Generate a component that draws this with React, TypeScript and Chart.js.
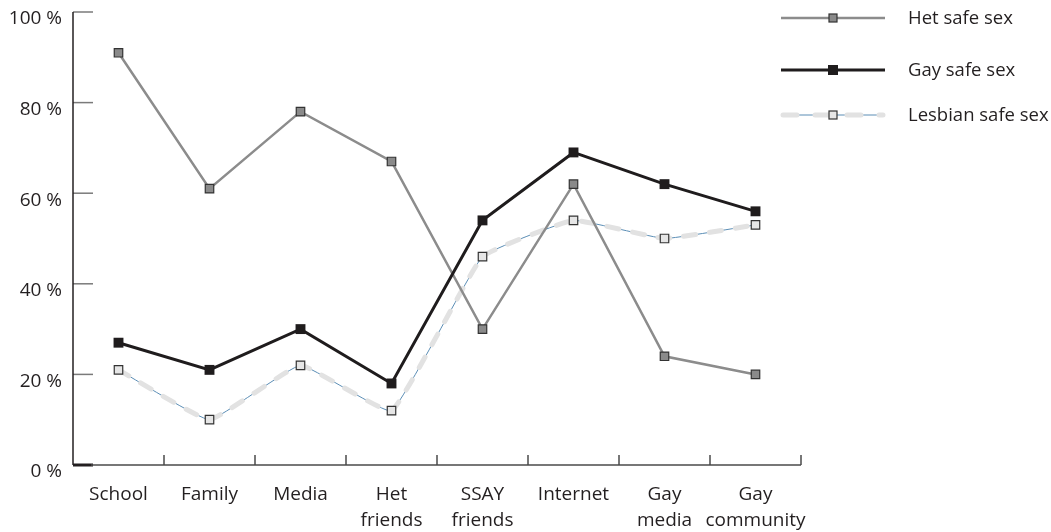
import React, { useEffect, useRef } from "react";
import { Chart, registerables } from "chart.js";
Chart.register(...registerables);

const categories: string[][] = [
  ["School"], ["Family"], ["Media"], ["Het", "friends"],
  ["SSAY", "friends"], ["Internet"], ["Gay", "media"], ["Gay", "community"],
];
const hetSafeSex = [91, 61, 78, 67, 30, 62, 24, 20];
const gaySafeSex = [27, 21, 30, 18, 54, 69, 62, 56];
const lesbianSafeSex = [21, 10, 22, 12, 46, 54, 50, 53];
const yTickValues = [0, 20, 40, 60, 80, 100];
const seriesNames = ["Het safe sex", "Gay safe sex", "Lesbian safe sex"];

const FONT = "'Open Sans', sans-serif";
const TEXT = "#231f20";

const axesPlugin = {
  id: "customAxes",
  beforeDatasetsDraw(chart: any) {
    const { ctx, chartArea } = chart;
    const x = chart.scales.x;
    const y = chart.scales.y;
    const left = chartArea.left;
    const bottom = y.getPixelForValue(0);
    const top = y.getPixelForValue(100);
    ctx.save();
    ctx.lineCap = "butt";
    yTickValues.forEach((v) => {
      const py = y.getPixelForValue(v);
      ctx.beginPath();
      ctx.strokeStyle = v === 0 ? "#231f20" : "#7a7a7a";
      ctx.lineWidth = v === 0 ? 3 : 1.5;
      ctx.moveTo(left, py);
      ctx.lineTo(left + 20, py);
      ctx.stroke();
    });
    ctx.beginPath();
    ctx.strokeStyle = "#231f20";
    ctx.lineWidth = 1.5;
    ctx.moveTo(left, top);
    ctx.lineTo(left, bottom);
    ctx.stroke();
    const n = categories.length;
    const step = x.getPixelForValue(1) - x.getPixelForValue(0);
    const right = x.getPixelForValue(n - 1) + step / 2;
    ctx.beginPath();
    ctx.strokeStyle = "#4a4a4a";
    ctx.lineWidth = 1.5;
    ctx.moveTo(left + 18, bottom);
    ctx.lineTo(right, bottom);
    ctx.stroke();
    for (let i = 0; i < n; i++) {
      const px = x.getPixelForValue(i) + step / 2;
      ctx.beginPath();
      ctx.moveTo(px, bottom);
      ctx.lineTo(px, bottom - 10);
      ctx.stroke();
    }
    ctx.restore();
  },
};

const legendPlugin = {
  id: "customLegend",
  afterDraw(chart: any) {
    const { ctx } = chart;
    const rows = [18, 70, 115];
    const x0 = 781, x1 = 885, mx = 833, tx = 908;
    ctx.save();
    rows.forEach((ry, i) => {
      if (i === 0) {
        ctx.strokeStyle = "#8c8c8c"; ctx.lineWidth = 2.5;
        ctx.beginPath(); ctx.moveTo(x0, ry); ctx.lineTo(x1, ry); ctx.stroke();
        ctx.fillStyle = "#8a8a8a"; ctx.strokeStyle = "#333"; ctx.lineWidth = 1.2;
        ctx.fillRect(mx - 4, ry - 4, 8, 8); ctx.strokeRect(mx - 4, ry - 4, 8, 8);
      } else if (i === 1) {
        ctx.strokeStyle = "#1f1c1d"; ctx.lineWidth = 3;
        ctx.beginPath(); ctx.moveTo(x0, ry); ctx.lineTo(x1, ry); ctx.stroke();
        ctx.fillStyle = "#1f1c1d";
        ctx.fillRect(mx - 5, ry - 5, 10, 10);
      } else {
        ctx.strokeStyle = "#5a8db5"; ctx.lineWidth = 1;
        ctx.beginPath(); ctx.moveTo(x0, ry); ctx.lineTo(x1, ry); ctx.stroke();
        ctx.strokeStyle = "#e2e2e2"; ctx.lineWidth = 5; ctx.lineCap = "round";
        ctx.setLineDash([14, 18]);
        ctx.beginPath(); ctx.moveTo(x0 + 2, ry); ctx.lineTo(x1 - 2, ry); ctx.stroke();
        ctx.setLineDash([]);
        ctx.lineCap = "butt";
        ctx.fillStyle = "#e6e6e6"; ctx.strokeStyle = "#333"; ctx.lineWidth = 1.2;
        ctx.fillRect(mx - 4, ry - 4, 8, 8); ctx.strokeRect(mx - 4, ry - 4, 8, 8);
      }
      ctx.fillStyle = TEXT;
      ctx.font = `18.5px ${FONT}`;
      ctx.textBaseline = "middle";
      ctx.textAlign = "left";
      ctx.fillText(seriesNames[i], tx, ry + 1);
    });
    ctx.restore();
  },
};

export default function App() {
  const ref = useRef<HTMLCanvasElement>(null);
  useEffect(() => {
    if (!ref.current) return;
    const chart = new Chart(ref.current, {
      type: "line",
      data: {
        labels: categories,
        datasets: [
          {
            label: seriesNames[1],
            data: gaySafeSex,
            borderColor: "#1f1c1d",
            borderWidth: 3,
            pointStyle: "rect",
            pointRadius: 7,
            pointBackgroundColor: "#1f1c1d",
            pointBorderColor: "#1f1c1d",
            pointBorderWidth: 0,
            tension: 0,
            order: 1,
          },
          {
            label: seriesNames[0],
            data: hetSafeSex,
            borderColor: "#8c8c8c",
            borderWidth: 2.5,
            pointStyle: "rect",
            pointRadius: 6,
            pointBackgroundColor: "#8a8a8a",
            pointBorderColor: "#333",
            pointBorderWidth: 1.2,
            tension: 0,
            order: 2,
          },
          {
            label: seriesNames[2],
            data: lesbianSafeSex,
            borderColor: "#e2e2e2",
            borderWidth: 5,
            borderDash: [12, 14],
            borderCapStyle: "round",
            pointStyle: "rect",
            pointRadius: 6,
            pointBackgroundColor: "#e6e6e6",
            pointBorderColor: "#333",
            pointBorderWidth: 1.2,
            tension: 0.1,
            order: 3,
          },
          {
            label: "lesbian-thin",
            data: lesbianSafeSex,
            borderColor: "#5a8db5",
            borderWidth: 1,
            pointRadius: 0,
            tension: 0.1,
            order: 4,
          },
        ],
      },
      options: {
        animation: false,
        responsive: true,
        maintainAspectRatio: false,
        layout: { padding: { left: 0, right: 250, top: 0, bottom: 0 } },
        plugins: { legend: { display: false }, tooltip: { enabled: false } },
        scales: {
          x: {
            type: "category",
            offset: true,
            grid: { display: false, drawTicks: false },
            border: { display: false },
            ticks: {
              color: TEXT,
              font: { family: FONT, size: 19, lineHeight: 1.37 },
              padding: 17,
              maxRotation: 0,
              autoSkip: false,
            },
            afterFit: (s: any) => { s.height = 67; },
          },
          y: {
            min: 0,
            max: 100,
            grid: { display: false, drawTicks: false },
            border: { display: false },
            ticks: {
              stepSize: 20,
              color: TEXT,
              font: { family: FONT, size: 19 },
              padding: 11,
              labelOffset: 7,
              callback: (v: any) => `${v} %`,
            },
            afterFit: (s: any) => { s.width = 73; s.paddingTop = 12; s.paddingBottom = 0; },
          },
        },
      },
      plugins: [axesPlugin, legendPlugin],
    } as any);
    return () => chart.destroy();
  }, []);
  return (
    <div style={{ position: "fixed", left: 0, top: 0, width: 1051, height: 532, background: "#fff" }}>
      <canvas ref={ref} />
    </div>
  );
}
